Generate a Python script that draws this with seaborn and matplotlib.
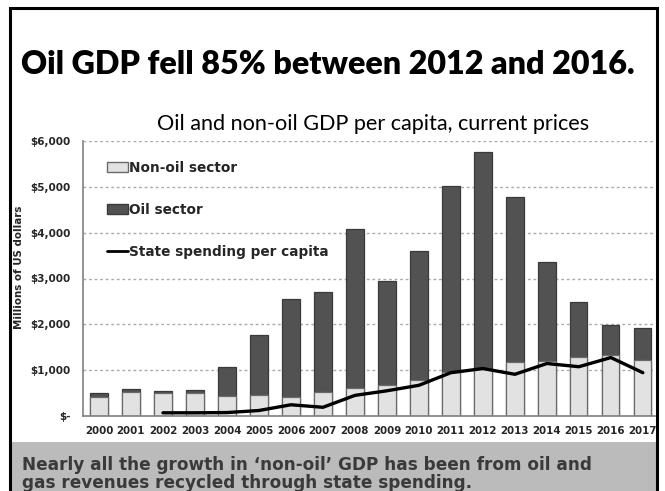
import numpy as np
import pandas as pd
import matplotlib
matplotlib.use("Agg")
import matplotlib.pyplot as plt
from matplotlib.patches import Rectangle, Patch
from matplotlib.lines import Line2D
import seaborn as sns

# Per-capita GDP split by sector, current prices (US$)
years = [2000, 2001, 2002, 2003, 2004, 2005, 2006, 2007, 2008,
         2009, 2010, 2011, 2012, 2013, 2014, 2015, 2016, 2017]
non_oil = [410, 530, 500, 510, 440, 450, 415, 515, 610,
           670, 785, 955, 1020, 1170, 1210, 1280, 1340, 1225]
oil = [100, 55, 50, 60, 640, 1325, 2130, 2190, 3470,
       2265, 2825, 4065, 4750, 3605, 2140, 1215, 635, 690]

# State spending per capita, available from 2002
spend_years = [2002, 2003, 2004, 2005, 2006, 2007, 2008, 2009,
               2010, 2011, 2012, 2013, 2014, 2015, 2016, 2017]
spending = [70, 70, 75, 120, 245, 190, 450, 550,
            670, 945, 1035, 910, 1145, 1075, 1275, 945]

y_ticks = [0, 1000, 2000, 3000, 4000, 5000, 6000]
y_tick_labels = ["$-", "$1,000", "$2,000", "$3,000", "$4,000", "$5,000", "$6,000"]

df = pd.DataFrame({"year": [str(y) for y in years],
                   "non_oil": non_oil, "oil": oil})
df["total"] = df["non_oil"] + df["oil"]
sp = pd.DataFrame({"pos": [years.index(y) for y in spend_years],
                   "spending": spending})

sns.set_style("white")
plt.rcParams["font.family"] = ["DejaVu Sans"]

W, H = 665, 491
fig = plt.figure(figsize=(W / 100, H / 100), dpi=100)
ax = fig.add_axes([83 / W, 1 - 416 / H, (655 - 83) / W, (416 - 141) / H])

light = "#e2e2e2"
dark = "#525252"
order = df["year"].tolist()

# stacked bars: full height in dark, non-oil share drawn over it in light
sns.barplot(data=df, x="year", y="total", order=order, color=dark,
            saturation=1, width=0.54, edgecolor="#3a3a3a", linewidth=0.9, ax=ax)
sns.barplot(data=df, x="year", y="non_oil", order=order, color=light,
            saturation=1, width=0.54, edgecolor="#6a6a6a", linewidth=0.9, ax=ax)
sns.lineplot(data=sp, x="pos", y="spending", color="black", linewidth=2.4, ax=ax)

ax.set_xlim(-0.5, 17.38)
ax.set_ylim(0, 6000)
ax.set_yticks(y_ticks)
ax.set_yticklabels(y_tick_labels, fontsize=7.5, fontweight="bold")
ax.set_xticks(range(len(years)))
ax.set_xticklabels(order, fontsize=7.4, fontweight="bold")
ax.tick_params(axis="x", length=0, pad=7)
ax.tick_params(axis="y", length=0, pad=9)
ax.set_xlabel("")
ax.set_ylabel("Millions of US dollars", fontsize=7.4, fontweight="bold")
ax.yaxis.set_label_coords(-0.103, 0.54)
ax.grid(axis="y", linestyle=(0, (2, 2)), color="#aaaaaa", linewidth=1)
ax.set_axisbelow(True)
for s in ["top", "right"]:
    ax.spines[s].set_visible(False)
for s in ["left", "bottom"]:
    ax.spines[s].set_color("#808080")
    ax.spines[s].set_linewidth(1.2)

handles = [Patch(facecolor=light, edgecolor="#6a6a6a", label="Non-oil sector"),
           Patch(facecolor=dark, edgecolor="#3a3a3a", label="Oil sector"),
           Line2D([], [], color="black", linewidth=2, label="State spending per capita")]
leg = ax.legend(handles=handles, loc="upper left", bbox_to_anchor=(0.033, 0.948),
                frameon=False, prop={"weight": "bold", "size": 9.8},
                labelspacing=2.05, handlelength=1.5, handletextpad=0.12,
                borderaxespad=0)

# slide frame and caption band
fig.add_artist(Rectangle((10 / W, -0.1), (657 - 10) / W, 1.1 - 8 / H,
                         transform=fig.transFigure, fill=False,
                         edgecolor="black", linewidth=2.2))
fig.add_artist(Rectangle((11 / W, 0), (656 - 11) / W, (H - 442) / H,
                         transform=fig.transFigure, facecolor="#bbbbbb",
                         edgecolor="none", zorder=0))

renderer = fig.canvas.get_renderer()


def fit_width(txt, width_px):
    """Scale a text's font size so that it spans the given pixel width."""
    w = txt.get_window_extent(renderer).width
    txt.set_fontsize(txt.get_fontsize() * width_px / w)


title = fig.text(328 / W, 1 - 65 / H, "Oil GDP fell 85% between 2012 and 2016.",
                 ha="center", va="center", fontsize=22, fontweight="heavy",
                 family=["Lato", "DejaVu Sans"], color="black")
fit_width(title, 613)

subtitle = fig.text(373 / W, 1 - 124 / H,
                    "Oil and non-oil GDP per capita, current prices",
                    ha="center", va="center", fontsize=13,
                    family=["Lato", "DejaVu Sans"], color="black")
fit_width(subtitle, 433)

fig.text(22 / W, 1 - 474 / H,
         "Nearly all the growth in \u2018non-oil\u2019 GDP has been from oil and\n"
         "gas revenues recycled through state spending.",
         ha="left", va="center", fontsize=12.2, fontweight="bold",
         color="#3a3a3a", linespacing=1.05)

fig.savefig("out.png", dpi=100)
